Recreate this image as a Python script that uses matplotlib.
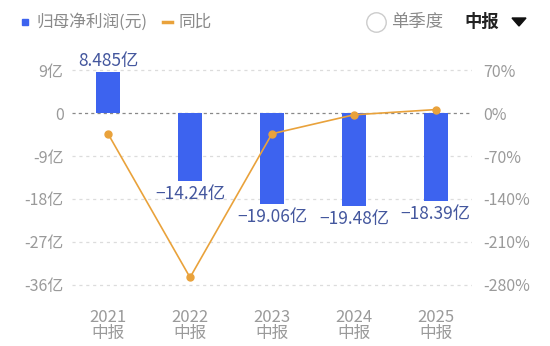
import matplotlib.pyplot as plt
from matplotlib.patches import Rectangle, Polygon

plt.rcParams['font.family'] = ['Noto Sans CJK SC', 'DejaVu Sans']
plt.rcParams['font.weight'] = 'light'

# data
periods = ["2021\n中报", "2022\n中报", "2023\n中报", "2024\n中报", "2025\n中报"]
profit = [8.485, -14.24, -19.06, -19.48, -18.39]  # 亿
yoy = [-34.0, -267.8, -33.8, -2.9, 5.6]  # %
profit_labels = ["8.485亿", "−14.24亿", "−19.06亿", "−19.48亿", "−18.39亿"]
left_ticks = [9, 0, -9, -18, -27, -36]
left_labels = ["9亿", "0", "-9亿", "-18亿", "-27亿", "-36亿"]
right_ticks = [70, 0, -70, -140, -210, -280]
right_labels = ["70%", "0%", "-70%", "-140%", "-210%", "-280%"]

blue = "#3d63ef"
orange = "#e9a23b"
label_col = "#44579e"
tick_col = "#9a9a9a"

fig = plt.figure(figsize=(5.5, 3.46), dpi=100)
ax = fig.add_axes([0.131, 0.135, 0.727, 0.704])

x = list(range(len(periods)))
ax.bar(x, profit, width=0.29, color=blue, zorder=3)
ax.set_xlim(-0.44, 4.44)
ax.set_ylim(-39, 12)
ax.set_yticks(left_ticks)
ax.set_yticklabels(left_labels)
ax.set_xticks(x)
ax.set_xticklabels(periods, linespacing=0.9)

for t in left_ticks:
    if t == 0:
        ax.axhline(t, color="#888888", lw=0.9, ls=(0, (2.5, 2.5)), zorder=2)
    else:
        ax.axhline(t, color="#dcdcdc", lw=0.9, ls=(0, (2.5, 3)), zorder=1)

for xi, v, lab in zip(x, profit, profit_labels):
    if v >= 0:
        ax.text(xi, v + 0.5, lab, ha="center", va="bottom", color=label_col, fontsize=12.5)
    else:
        ax.text(xi, v - 0.9, lab, ha="center", va="top", color=label_col, fontsize=12.5)

for s in ax.spines.values():
    s.set_visible(False)
ax.tick_params(axis="both", length=0, colors=tick_col, labelsize=11.5)
ax.tick_params(axis="x", labelsize=12, pad=7)
ax.tick_params(axis="y", pad=6)

ax2 = ax.twinx()
ax2.set_ylim(-39 * 70 / 9, 12 * 70 / 9)
ax2.plot(x, yoy, color=orange, lw=1.2, marker="o", ms=5, zorder=4)
ax2.set_yticks(right_ticks)
ax2.set_yticklabels(right_labels)
for s in ax2.spines.values():
    s.set_visible(False)
ax2.tick_params(axis="y", length=0, colors=tick_col, labelsize=11.5, pad=8)

# header legend
hy = 1 - 22 / 346
fig.patches.append(Rectangle((22 / 550, 1 - 25 / 346), 6 / 550, 6 / 346,
                             transform=fig.transFigure, color=blue))
fig.text(36 / 550, hy, "归母净利润(元)", color="#8a8a8a", fontsize=12, va="center")
fig.lines.append(plt.Line2D([163 / 550, 172 / 550], [hy, hy],
                            transform=fig.transFigure, color=orange, lw=2.5))
fig.text(178 / 550, hy, "同比", color="#8a8a8a", fontsize=12, va="center")

fig.lines.append(plt.Line2D([376 / 550], [hy], transform=fig.transFigure, marker="o",
                            ms=14, mfc="none", mec="#cccccc", mew=1))
fig.text(391 / 550, hy, "单季度", color="#8a8a8a", fontsize=12.5, va="center")
fig.text(464 / 550, hy, "中报", color="#222222", fontsize=12.5, va="center", weight="bold")
fig.patches.append(Polygon([(512 / 550, 1 - 18 / 346), (526 / 550, 1 - 18 / 346),
                            (519 / 550, 1 - 26 / 346)], closed=True,
                           transform=fig.transFigure, color="#111111"))

fig.savefig("out.png", dpi=100)
